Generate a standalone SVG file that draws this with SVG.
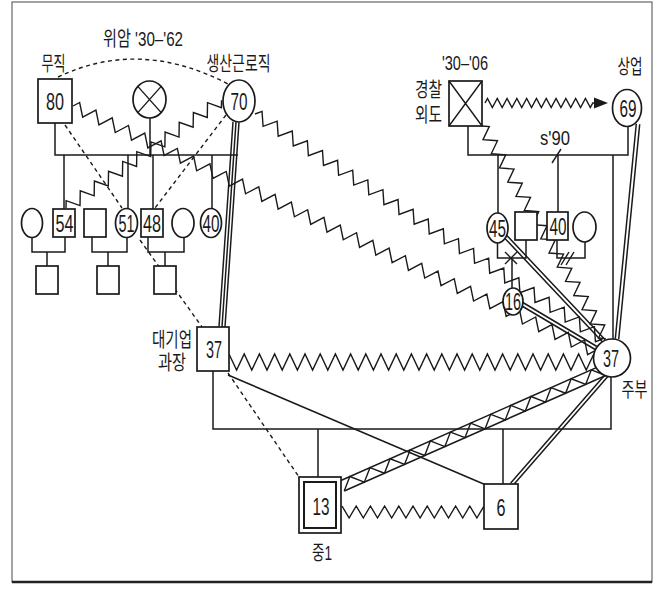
<svg xmlns="http://www.w3.org/2000/svg" width="660" height="589" viewBox="0 0 660 589">
<defs>
<style>
.ln{fill:none;stroke:#1a1a1a;stroke-width:1.5}
.zz{fill:none;stroke:#1a1a1a;stroke-width:1.4;stroke-linejoin:miter}
.ds{fill:none;stroke:#1a1a1a;stroke-width:1.4;stroke-dasharray:4 3.5}
.nd{fill:#fff;stroke:#1a1a1a;stroke-width:1.7}
.x{fill:none;stroke:#1a1a1a;stroke-width:1.4}
.num{font-family:"Liberation Sans","Noto Sans CJK KR",sans-serif;font-size:24px;fill:#1a1a1a;text-anchor:middle}
.lb{font-family:"Liberation Sans","Noto Sans CJK KR",sans-serif;font-size:20px;fill:#1a1a1a;text-anchor:middle}
</style>
<marker id="arr" markerUnits="userSpaceOnUse" markerWidth="15" markerHeight="14" refX="0" refY="7" orient="auto" viewBox="0 0 15 14">
<path d="M0,1.5 L14,7 L0,12.5 z" fill="#1a1a1a"/>
</marker>
</defs>
<rect width="660" height="589" fill="#fff"/>
<rect x="12" y="2" width="640" height="580" fill="none" stroke="#666" stroke-width="1.2"/>
<path d="M12,582 H652" stroke="#222" stroke-width="2.5"/>

<g id="connectors">
<path class="ln" d="M55,123 V155 H238"/>
<path class="ln" d="M150,118 V155 M64,155 V209 M128,155 V208.5 M153,155 V209 M212,155 V208.5"/>
<path class="ln" d="M32,237.5 V252 H65 V237 M47,252 V266"/>
<path class="ln" d="M92,237 V252 H127 V237.5 M108,252 V266"/>
<path class="ln" d="M148,237 V252 H184 V237.5 M165,252 V266"/>
<path class="ln" d="M468,126 V155 H628 V126.5 M498,155 V213 M558,155 V212 M613,155 V339.5"/>
<path class="ln" d="M497.5,243 V258 H526 V240 M512,258 V288"/>
<path class="ln" d="M557,240 V258 H585 V242"/>
<path class="ln" d="M213,371 V429 H611 V377 M318,429 V477 M503,429 V484"/>
<path class="x" d="M505,252 L517,264 M505,264 L517,252"/>
<path class="x" d="M561,265 L569,252 M566,265 L574,252"/>
<path class="x" d="M552,163 L561,149"/>
<path class="ln" d="M228,375 L486,485"/>
<path class="ds" d="M58,77 Q140,38 228,84"/>
<path class="ds" d="M65,125 L122,208"/>
<path class="ds" d="M226,115 L155,208"/>
<path class="ds" d="M140,240 L202,327"/>
<path class="ds" d="M228,373 L299,477"/>
<path class="ln" stroke-width="1.2" d="M233,121.8 L219,326.8 M236,122 L222,327 M239,122.2 L225,327.2"/>
<path class="ln" stroke-width="1.2" d="M636.3,123.8 L615.3,338.8 M639.7,124.2 L618.7,339.2"/>
<path class="ln" stroke-width="1.2" d="M506.2,234.8 L605.2,339.8 M503.8,237.2 L602.8,342.2"/>
<path class="ln" stroke-width="1.2" d="M522.9,302.5 L596.9,346.5 M521.1,305.5 L595.1,349.5"/>
<path class="ln" stroke-width="1.2" d="M608.3,376.1 L513.3,485.1 M605.7,373.9 L510.7,482.9"/>
<path class="zz" transform="translate(73,106) rotate(25.19)" d="M0,0 l4.5,-6
 l9,12 l9,-12 l9,12 l9,-12 l9,12 l9,-12 l9,12 l9,-12 l9,12 l9,-12
 l9,12 l9,-12 l9,12 l9,-12 l9,12 l9,-12 l9,12 l9,-12 l9,12 l9,-12
 l9,12 l9,-12 l9,12 l9,-12 l9,12 l9,-12 l9,12 l9,-12 l9,12 l9,-12
 l9,12 l9,-12 l9,12 l9,-12 l9,12 l9,-12 l9,12 l9,-12 l9,12 l9,-12
 l9,12 l9,-12 l9,12 l9,-12 l9,12 l9,-12 l9,12 l9,-12 l9,12 l9,-12
 l9,12 l9,-12 l9,12 l9,-12 l9,12 l9,-12 l9,12 l9,-12 l9,12 l9,-12
 l9,12 l9,-12
 l9,12 l4.5,-6"/>
<path class="zz" transform="translate(66,208) rotate(-34.7)" d="M0,0 l4.3,-6
 l8.6,12 l8.6,-12 l8.6,12 l8.6,-12 l8.6,12 l8.6,-12 l8.6,12 l8.6,-12 l8.6,12 l8.6,-12
 l8.6,12 l8.6,-12 l8.6,12 l8.6,-12 l8.6,12 l8.6,-12 l8.6,12 l8.6,-12 l8.6,12 l8.6,-12
 l8.6,12 l4.3,-6"/>
<path class="zz" transform="translate(255,114) rotate(32.93)" d="M0,0 l4.5,-6
 l9,12 l9,-12 l9,12 l9,-12 l9,12 l9,-12 l9,12 l9,-12 l9,12 l9,-12
 l9,12 l9,-12 l9,12 l9,-12 l9,12 l9,-12 l9,12 l9,-12 l9,12 l9,-12
 l9,12 l9,-12 l9,12 l9,-12 l9,12 l9,-12 l9,12 l9,-12 l9,12 l9,-12
 l9,12 l9,-12 l9,12 l9,-12 l9,12 l9,-12 l9,12 l9,-12 l9,12 l9,-12
 l9,12 l9,-12 l9,12 l9,-12
 l9,12 l4.5,-6"/>
<path class="zz" transform="translate(482,126) rotate(59.79)" d="M0,0 l4.1,-6
 l8.2,12 l8.2,-12 l8.2,12 l8.2,-12 l8.2,12 l8.2,-12 l8.2,12 l8.2,-12 l8.2,12 l8.2,-12
 l8.2,12 l8.2,-12 l8.2,12 l8.2,-12 l8.2,12 l8.2,-12 l8.2,12 l8.2,-12 l8.2,12 l8.2,-12
 l8.2,12 l8.2,-12 l8.2,12 l8.2,-12 l8.2,12 l8.2,-12 l8.2,12 l8.2,-12
 l8.2,12 l4.1,-6"/>
<path class="zz" marker-end="url(#arr)" d="M485,103 l2.45,-4.5
 l4.9,9 l4.9,-9 l4.9,9 l4.9,-9 l4.9,9 l4.9,-9 l4.9,9 l4.9,-9 l4.9,9 l4.9,-9
 l4.9,9 l4.9,-9 l4.9,9 l4.9,-9 l4.9,9 l4.9,-9 l4.9,9 l4.9,-9 l4.9,9 l4.9,-9
 l4.9,9 l2.45,-4.5 h1.2"/>
<path class="zz" d="M229,354
 l7.6,16 l7.6,-16 l7.6,16 l7.6,-16 l7.6,16 l7.6,-16 l7.6,16 l7.6,-16 l7.6,16 l7.6,-16
 l7.6,16 l7.6,-16 l7.6,16 l7.6,-16 l7.6,16 l7.6,-16 l7.6,16 l7.6,-16 l7.6,16 l7.6,-16
 l7.6,16 l7.6,-16 l7.6,16 l7.6,-16 l7.6,16 l7.6,-16 l7.6,16 l7.6,-16 l7.6,16 l7.6,-16
 l7.6,16 l7.6,-16 l7.6,16 l7.6,-16 l7.6,16 l7.6,-16 l7.6,16 l7.6,-16 l7.6,16 l7.6,-16
 l7.6,16 l7.6,-16 l7.6,16 l7.6,-16 l7.6,16 l7.6,-16 l7.6,16 l7.6,-16"/>
<path class="zz" d="M342,506
 l7.1,12 l7.1,-12 l7.1,12 l7.1,-12 l7.1,12 l7.1,-12 l7.1,12 l7.1,-12 l7.1,12 l7.1,-12
 l7.1,12 l7.1,-12 l7.1,12 l7.1,-12 l7.1,12 l7.1,-12 l7.1,12 l7.1,-12 l7.1,12 l7.1,-12"/>
<g transform="translate(342,486) rotate(-23.83)">
<path class="ln" stroke-width="1.6" d="M0,-5.5 H286 M0,5.5 H286"/>
<path class="zz" stroke-width="1.1" d="M0,5.5 l11,-11 l11,11 l11,-11 l11,11 l11,-11 l11,11 l11,-11 l11,11 l11,-11 l11,11 l11,-11 l11,11 l11,-11 l11,11 l11,-11 l11,11 l11,-11 l11,11 l11,-11 l11,11 l11,-11 l11,11 l11,-11 l11,11 l11,-11 l11,11"/>
</g>
</g>

<g id="label-illness"><text class="lb" x="143" y="46" textLength="80" lengthAdjust="spacingAndGlyphs">위암 '30–'62</text></g>
<g id="n80"><rect class="nd" x="38" y="79" width="34" height="44"/><text class="num" x="55" y="109.5" textLength="18" lengthAdjust="spacingAndGlyphs">80</text><text class="lb" x="53.5" y="71" textLength="24" lengthAdjust="spacingAndGlyphs">무직</text></g>
<g id="nDeceased"><ellipse class="nd" cx="149.5" cy="99.5" rx="16.5" ry="18.5"/><path class="x" d="M137.8,86.4 L161.2,112.6 M161.2,86.4 L137.8,112.6"/></g>
<g id="n70"><ellipse class="nd" cx="239" cy="101" rx="16" ry="21"/><text class="num" x="239" y="109.5" textLength="17" lengthAdjust="spacingAndGlyphs">70</text><text class="lb" x="238.5" y="71" textLength="64" lengthAdjust="spacingAndGlyphs">생산근로직</text></g>

<g id="nW54"><ellipse class="nd" cx="32" cy="223" rx="10.5" ry="14.5"/></g>
<g id="n54"><rect class="nd" x="53" y="209" width="22" height="28"/><text class="num" x="64.5" y="231.5" textLength="18" lengthAdjust="spacingAndGlyphs">54</text></g>
<g id="nH51"><rect class="nd" x="84" y="209" width="22" height="28"/></g>
<g id="n51"><ellipse class="nd" cx="126.5" cy="223" rx="11" ry="14.5"/><text class="num" x="126.5" y="231.5" textLength="16" lengthAdjust="spacingAndGlyphs">51</text></g>
<g id="n48"><rect class="nd" x="141" y="209" width="22" height="28"/><text class="num" x="152" y="231.5" textLength="18" lengthAdjust="spacingAndGlyphs">48</text></g>
<g id="nW48"><ellipse class="nd" cx="183" cy="223" rx="11" ry="14.5"/></g>
<g id="n40a"><ellipse class="nd" cx="211" cy="223" rx="10.5" ry="14.5"/><text class="num" x="211" y="231.5" textLength="17" lengthAdjust="spacingAndGlyphs">40</text></g>
<g id="nC1"><rect class="nd" x="36" y="266" width="22" height="28"/></g>
<g id="nC2"><rect class="nd" x="97" y="266" width="22" height="28"/></g>
<g id="nC3"><rect class="nd" x="154" y="266" width="22" height="28"/></g>

<g id="n37box"><rect class="nd" x="197" y="327" width="32" height="44"/><text class="num" x="214" y="357.5" textLength="16" lengthAdjust="spacingAndGlyphs">37</text><text class="lb" x="172" y="347" textLength="40" lengthAdjust="spacingAndGlyphs">대기업</text><text class="lb" x="172" y="370" textLength="28" lengthAdjust="spacingAndGlyphs">과장</text></g>

<g id="nPolice"><rect class="nd" x="449" y="81" width="33" height="45"/><path class="x" d="M449,81 L482,126 M482,81 L449,126"/><text class="lb" x="465" y="70" textLength="46" lengthAdjust="spacingAndGlyphs">'30–'06</text><text class="lb" x="428.5" y="97" textLength="27" lengthAdjust="spacingAndGlyphs">경찰</text><text class="lb" x="428.5" y="122" textLength="27" lengthAdjust="spacingAndGlyphs">외도</text></g>
<g id="n69"><ellipse class="nd" cx="627" cy="108" rx="14.5" ry="18.5"/><text class="num" x="628" y="116.5" textLength="17" lengthAdjust="spacingAndGlyphs">69</text><text class="lb" x="630" y="74" textLength="25" lengthAdjust="spacingAndGlyphs">상업</text></g>
<g id="label-s90"><text class="lb" x="555" y="145" textLength="30" lengthAdjust="spacingAndGlyphs">s'90</text></g>
<g id="n45"><ellipse class="nd" cx="497.5" cy="228" rx="10.5" ry="15"/><text class="num" x="497.5" y="236.5" textLength="17" lengthAdjust="spacingAndGlyphs">45</text></g>
<g id="nH45"><rect class="nd" x="515" y="212" width="22" height="28"/></g>
<g id="n40b"><rect class="nd" x="547" y="212" width="21" height="28"/><text class="num" x="558" y="234.5" textLength="17" lengthAdjust="spacingAndGlyphs">40</text></g>
<g id="nW40"><ellipse class="nd" cx="584.5" cy="227" rx="11.5" ry="15"/></g>
<g id="n16"><ellipse class="nd" cx="513" cy="301.5" rx="10" ry="13.5"/><text class="num" x="513" y="310" textLength="16" lengthAdjust="spacingAndGlyphs">16</text></g>
<g id="n37wife"><ellipse class="nd" cx="612" cy="358" rx="18.5" ry="19"/><text class="num" x="611" y="366.5" textLength="16" lengthAdjust="spacingAndGlyphs">37</text><text class="lb" x="634.5" y="397" textLength="26" lengthAdjust="spacingAndGlyphs">주부</text></g>

<g id="n13"><rect class="nd" x="299" y="477" width="42" height="56"/><rect x="304" y="482" width="32" height="46" fill="none" stroke="#1a1a1a" stroke-width="2"/><text class="num" x="321" y="514.5" textLength="17" lengthAdjust="spacingAndGlyphs">13</text><text class="lb" x="322" y="560" textLength="20" lengthAdjust="spacingAndGlyphs">중1</text></g>
<g id="n6"><rect class="nd" x="484" y="484" width="34" height="45"/><text class="num" x="501" y="515.5" textLength="9" lengthAdjust="spacingAndGlyphs">6</text></g>
</svg>
